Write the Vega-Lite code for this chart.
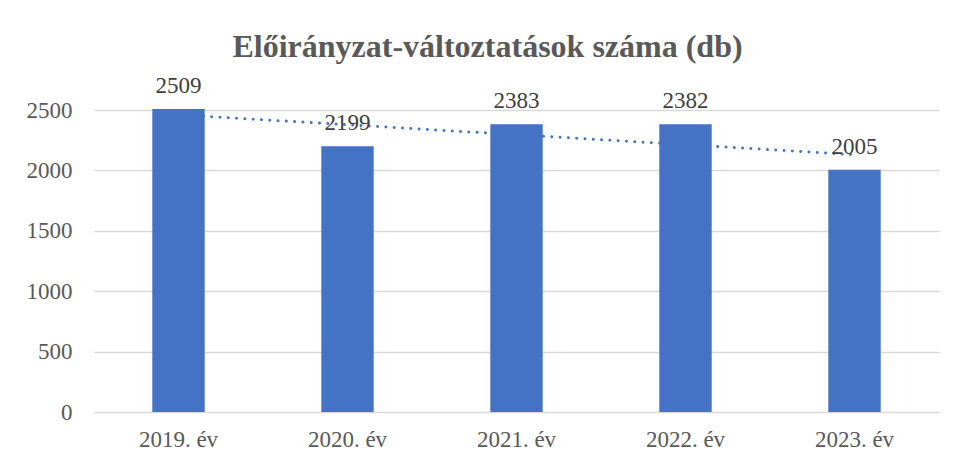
{
  "$schema": "https://vega.github.io/schema/vega-lite/v6.json",
  "autosize": "none",
  "width": 845,
  "height": 302,
  "padding": {"left": 94, "top": 110, "right": 17, "bottom": 54},
  "background": "white",
  "config": {"view": {"stroke": null}},
  "title": {
    "text": "Előirányzat-változtatások száma (db)",
    "font": "Liberation Serif",
    "fontSize": 32,
    "fontWeight": "bold",
    "color": "#595959",
    "anchor": "middle",
    "dx": -29,
    "offset": 11
  },
  "data": {
    "values": [
      {"ev": "2019. év", "db": 2509, "trend": 2460.6},
      {"ev": "2020. év", "db": 2199, "trend": 2378.1},
      {"ev": "2021. év", "db": 2383, "trend": 2295.6},
      {"ev": "2022. év", "db": 2382, "trend": 2213.1},
      {"ev": "2023. év", "db": 2005, "trend": 2130.6}
    ]
  },
  "encoding": {
    "x": {
      "field": "ev",
      "type": "nominal",
      "sort": null,
      "title": null,
      "scale": {"paddingInner": 0.69, "paddingOuter": 0.345},
      "axis": {
        "domain": false,
        "ticks": false,
        "labelAngle": 0,
        "labelFont": "Liberation Serif",
        "labelFontSize": 23,
        "labelColor": "#595959",
        "labelPadding": 16
      }
    }
  },
  "layer": [
    {
      "mark": {
        "type": "line",
        "color": "#4472C4",
        "strokeWidth": 3,
        "strokeCap": "round",
        "strokeDash": [0.01, 8.3]
      },
      "encoding": {
        "y": {"field": "trend", "type": "quantitative"}
      }
    },
    {
      "mark": {"type": "bar", "color": "#4472C4"},
      "encoding": {
        "y": {
          "field": "db",
          "type": "quantitative",
          "title": null,
          "scale": {"domain": [0, 2500], "nice": false, "zero": true},
          "axis": {
            "values": [0, 500, 1000, 1500, 2000, 2500],
            "format": "d",
            "domain": false,
            "ticks": false,
            "grid": true,
            "gridColor": "#d9d9d9",
            "gridWidth": 1.3,
            "labelFont": "Liberation Serif",
            "labelFontSize": 23,
            "labelColor": "#595959",
            "labelPadding": 22
          }
        }
      }
    },
    {
      "mark": {
        "type": "text",
        "font": "Liberation Serif",
        "fontSize": 23,
        "color": "#404040",
        "baseline": "alphabetic",
        "dy": -16
      },
      "encoding": {
        "y": {"field": "db", "type": "quantitative"},
        "text": {"field": "db", "type": "quantitative", "format": "d"}
      }
    }
  ]
}
